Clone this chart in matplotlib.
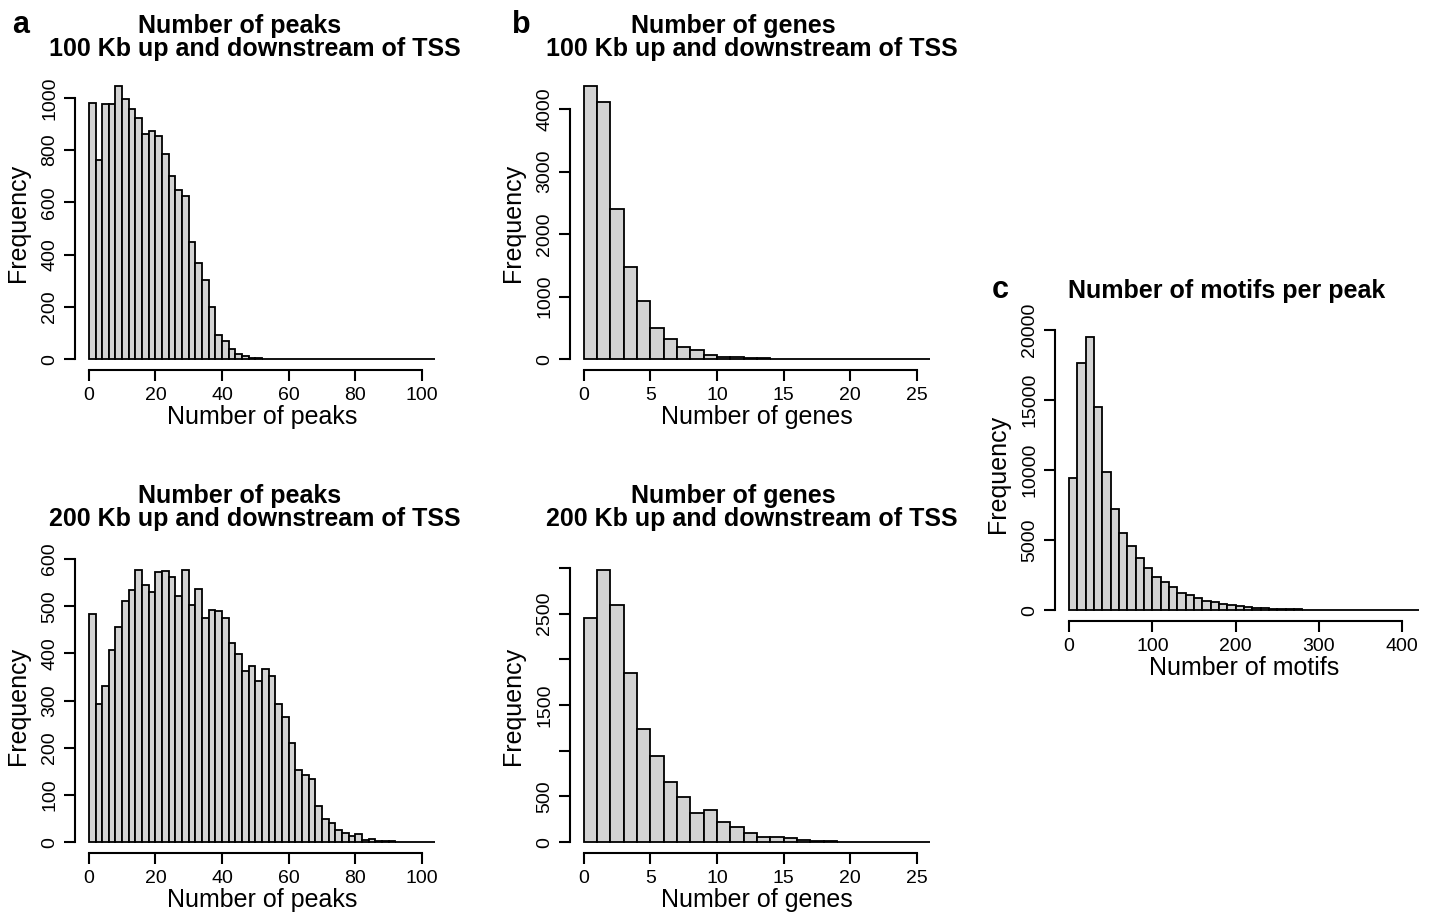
import numpy as np
import matplotlib
matplotlib.use("Agg")
import matplotlib.pyplot as plt

plt.rcParams['font.family'] = ['Liberation Sans', 'DejaVu Sans']

# histogram counts
peaks_100kb = [980, 762, 977, 977, 1046, 997, 957, 925, 863, 873, 855, 784, 702,
               647, 625, 449, 368, 302, 199, 93, 70, 40, 19, 10, 5, 3,
               1, 1, 0, 0, 0, 0, 0, 0, 0, 0, 0, 0, 0, 0, 0, 0, 0,
               0, 0, 0, 0, 0, 0, 0, 0, 1]
peaks_200kb = [484, 293, 331, 408, 457, 510, 534, 577, 544, 531, 572, 575, 562,
               522, 576, 502, 537, 474, 493, 490, 476, 422, 399, 363, 374, 342,
               367, 353, 293, 266, 211, 153, 143, 134, 76, 50, 40, 26, 20, 14,
               18, 5, 6, 3, 2, 2, 1, 0, 0, 0, 0, 1]
genes_100kb = [4369, 4117, 2408, 1469, 929, 502, 320, 192, 144, 59, 32, 30, 15,
               12, 5, 3, 2, 1, 0, 0, 0, 0, 0, 0, 0, 1]
genes_200kb = [2449, 2977, 2598, 1848, 1239, 944, 652, 492, 321, 353, 222, 164,
               95, 51, 58, 40, 22, 15, 15, 4, 2, 1, 0, 0, 0, 1]
motifs_per_peak = [9393, 17598, 19477, 14483, 9869, 7206, 5493, 4542, 3710, 2973,
                   2378, 1998, 1617, 1189, 1046, 832, 666, 547, 428, 333, 262,
                   214, 166, 119, 95, 71, 60, 48, 40, 30, 25, 18, 14, 11, 9, 7,
                   5, 4, 3, 2, 2, 1]

peak_bins = np.arange(0, 106, 2)
gene_bins = np.arange(0, 27, 1)
motif_bins = np.arange(0, 430, 10)

peak_xticks = [0, 20, 40, 60, 80, 100]
gene_xticks = [0, 5, 10, 15, 20, 25]
motif_xticks = [0, 100, 200, 300, 400]

W, H = 1435, 916
fig = plt.figure(figsize=(W / 100, H / 100), dpi=100)


def px_axes(l, t, r, b):
    return fig.add_axes([l / W, 1 - b / H, (r - l) / W, (b - t) / H])


def r_hist(ax, bins, counts, xticks, yticks, ylabels, xlabel):
    ax.bar(bins[:-1], counts, width=np.diff(bins), align='edge',
           color='#d3d3d3', edgecolor='black', linewidth=1.3)
    lo, hi = bins[0], bins[-1]
    ax.set_xlim(lo - 0.04 * (hi - lo), hi + 0.04 * (hi - lo))
    top = max(counts)
    ax.set_ylim(-0.04 * top, 1.04 * top)
    for s in ['top', 'right']:
        ax.spines[s].set_visible(False)
    for s in ['left', 'bottom']:
        ax.spines[s].set_linewidth(1.5)
    ax.spines['bottom'].set_bounds(xticks[0], xticks[-1])
    ax.spines['left'].set_bounds(yticks[0], yticks[-1])
    ax.set_xticks(xticks)
    ax.set_yticks(yticks)
    ax.set_yticklabels(ylabels, rotation=90, va='center')
    ax.tick_params(width=1.5, length=8, labelsize=14, pad=4)
    ax.set_xlabel(xlabel, fontsize=18, labelpad=1)
    ax.set_ylabel('Frequency', fontsize=18, labelpad=8)


ax1 = px_axes(75, 75, 449, 370)
r_hist(ax1, peak_bins, peaks_100kb, peak_xticks,
       [0, 200, 400, 600, 800, 1000], ['0', '200', '400', '600', '800', '1000'],
       'Number of peaks')
ax2 = px_axes(75, 559, 449, 853)
r_hist(ax2, peak_bins, peaks_200kb, peak_xticks,
       [0, 100, 200, 300, 400, 500, 600],
       ['0', '100', '200', '300', '400', '500', '600'], 'Number of peaks')
ax3 = px_axes(570, 75, 944, 370)
r_hist(ax3, gene_bins, genes_100kb, gene_xticks,
       [0, 1000, 2000, 3000, 4000], ['0', '1000', '2000', '3000', '4000'],
       'Number of genes')
ax4 = px_axes(570, 559, 944, 853)
r_hist(ax4, gene_bins, genes_200kb, gene_xticks,
       [0, 500, 1000, 1500, 2000, 2500, 3000],
       ['0', '500', '', '1500', '', '2500', ''], 'Number of genes')
ax5 = px_axes(1055, 326, 1433, 621)
r_hist(ax5, motif_bins, motifs_per_peak, motif_xticks,
       [0, 5000, 10000, 15000, 20000],
       ['0', '5000', '10000', '15000', '20000'], 'Number of motifs')


def ftext(x, y, s, **kw):
    fig.text(x / W, 1 - y / H, s, va='baseline', **kw)


title_kw = dict(ha='center', fontsize=18, fontweight='bold')
ftext(240, 33, 'Number of peaks', **title_kw)
ftext(255, 56, '100 Kb up and downstream of TSS', **title_kw)
ftext(240, 503, 'Number of peaks', **title_kw)
ftext(255, 526, '200 Kb up and downstream of TSS', **title_kw)
ftext(733, 33, 'Number of genes', **title_kw)
ftext(752, 56, '100 Kb up and downstream of TSS', **title_kw)
ftext(733, 503, 'Number of genes', **title_kw)
ftext(752, 526, '200 Kb up and downstream of TSS', **title_kw)
ftext(1227, 298, 'Number of motifs per peak', **title_kw)

letter_kw = dict(ha='left', fontsize=22, fontweight='bold')
ftext(12, 33, 'a', **letter_kw)
ftext(512, 33, 'b', **letter_kw)
ftext(992, 298, 'c', **letter_kw)

fig.savefig('out.png', dpi=100)
